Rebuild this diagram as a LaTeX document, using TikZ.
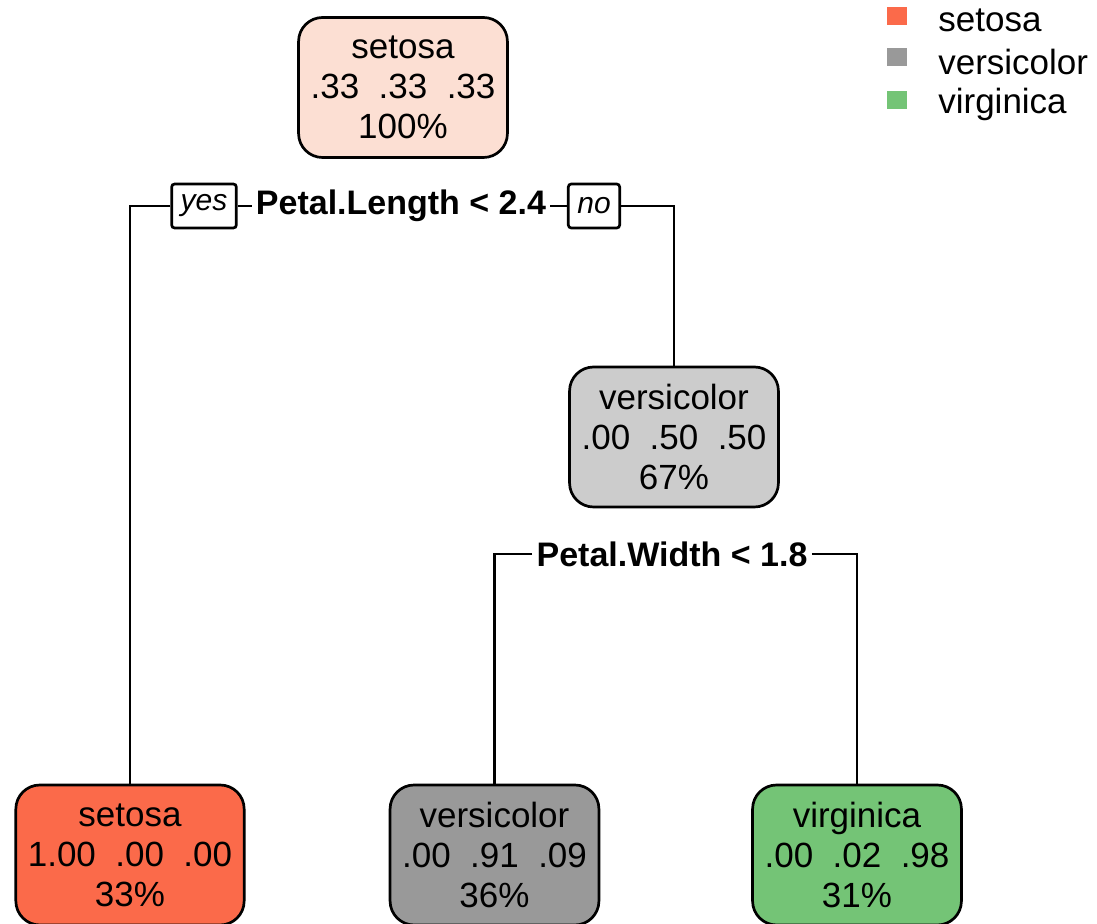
\documentclass[tikz,border=0pt]{standalone}
\usepackage{fontspec}
\setmainfont{Liberation Sans}
\usetikzlibrary{positioning}
\usepackage{xcolor}
\definecolor{setosaC}{HTML}{FB6A4A}
\definecolor{setosaL}{HTML}{FCDFD3}
\definecolor{versiC}{HTML}{999999}
\definecolor{versiL}{HTML}{CCCCCC}
\definecolor{virgiC}{HTML}{74C476}

\begin{document}
\begin{tikzpicture}[x=0.5pt,y=-0.5pt,line width=1.35pt]
    \tikzstyle{treenode}=[draw=black, rounded corners=12pt, align=center, minimum width=102.5pt, minimum height=70pt, inner xsep=6pt, font=\fontsize{17.5}{20}\selectfont]
    \tikzstyle{splitlabel}=[inner sep=1.5pt, font=\fontsize{17}{20}\selectfont\bfseries]
    \tikzstyle{answer}=[draw=black, rounded corners=1.5pt, inner xsep=4.5pt, minimum height=22pt, font=\fontsize{15}{18}\selectfont\itshape]
    \tikzstyle{legtext}=[anchor=west, inner sep=0pt, font=\fontsize{17.5}{20}\selectfont]

    \useasboundingbox (0,0) rectangle (1097,924);
    \clip (0,0) rectangle (1097,924);

%    tree nodes
    \node[treenode, fill=setosaL] (root) at (403,87.5) {setosa\\.33\ \ .33\ \ .33\\100\%};
    \node[treenode, fill=versiL, minimum width=102pt] (mid) at (674,437) {versicolor\\.00\ \ .50\ \ .50\\67\%};
    \node[treenode, fill=setosaC] (leafA) at (130,855) {setosa\\1.00\ \ .00\ \ .00\\33\%};
    \node[treenode, fill=versiC, minimum width=102pt] (leafB) at (494.5,855) {versicolor\\.00\ \ .91\ \ .09\\36\%};
    \node[treenode, fill=virgiC] (leafC) at (857,855) {virginica\\.00\ \ .02\ \ .98\\31\%};

%    splits
    \node[splitlabel] (split1) at (401,206) {Petal.Length < 2.4};
    \node[answer] (yes) at (204,206) {yes};
    \node[answer] (no) at (594,206) {no};
    \node[splitlabel] (split2) at (672,554) {Petal.Width < 1.8};

    \draw (split1) -- (yes);
    \draw (split1) -- (no);
    \draw (yes) -| (leafA);
    \draw (no) -| (mid);
    \draw (split2) -| (leafB);
    \draw (split2) -| (leafC);

%    legend
    \foreach \name/\col/\y in {setosa/setosaC/16, versicolor/versiC/57.5, virginica/virgiC/100}{
        \node[fill=\col, minimum width=10pt, minimum height=9pt, inner sep=0pt] (key-\name) at (897,\y) {};
        \node[legtext] (lab-\name) at (937,\y+4) {\name};
    }
\end{tikzpicture}
\end{document}
